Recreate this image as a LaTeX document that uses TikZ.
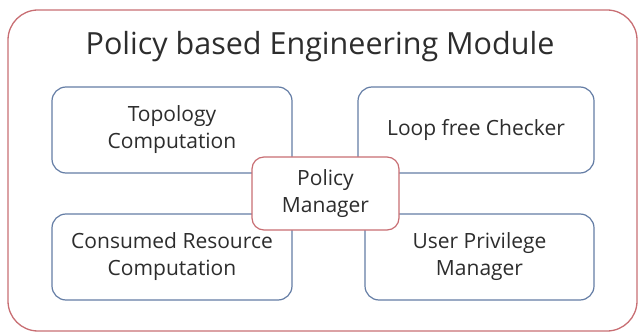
\documentclass[tikz,border=0pt]{standalone}
\usepackage{fontspec}
\setmainfont{Open Sans}
\usetikzlibrary{positioning}

\definecolor{framered}{RGB}{200,110,115}
\definecolor{boxblue}{RGB}{100,125,165}
\definecolor{textgray}{RGB}{45,45,45}

\begin{document}
\begin{tikzpicture}[x=1pt,y=-1pt,thick,
      module/.style={draw=framered,rounded corners=30pt,line width=1.3pt},
      part box/.style={draw=boxblue,fill=white,rounded corners=14pt,
      line width=1.2pt,align=center,text=textgray,font=\fontsize{21}{27}\selectfont,
      minimum width=240pt,minimum height=86pt,inner sep=0pt},
      manager box/.style={part box,draw=framered,minimum width=147pt,
      minimum height=73pt,rounded corners=12pt}]

      \useasboundingbox (0,0) rectangle (640,334);

      %% THE OUTER MODULE AND ITS TITLE
      \draw[module] (8,10) rectangle (637,331);
      \node[text=textgray,font=\fontsize{30.5}{34}\selectfont] (title) at (320,47)
            {Policy based Engineering Module};

      %% THE FOUR PARTS
      \node[part box] (topo) at (172,130) {Topology\\Computation};
      \node[part box,minimum width=236pt] (loop) at (476,130) {Loop free Checker};
      \node[part box] (consumed) at (172,257) {Consumed Resource\\Computation};
      \node[part box,minimum width=229pt] (user) at (479.5,257) {User Privilege\\Manager};

      %% THE MANAGER IN THE MIDDLE
      \node[manager box] (policy) at (325.5,193.5) {Policy\\Manager};
\end{tikzpicture}
\end{document}
